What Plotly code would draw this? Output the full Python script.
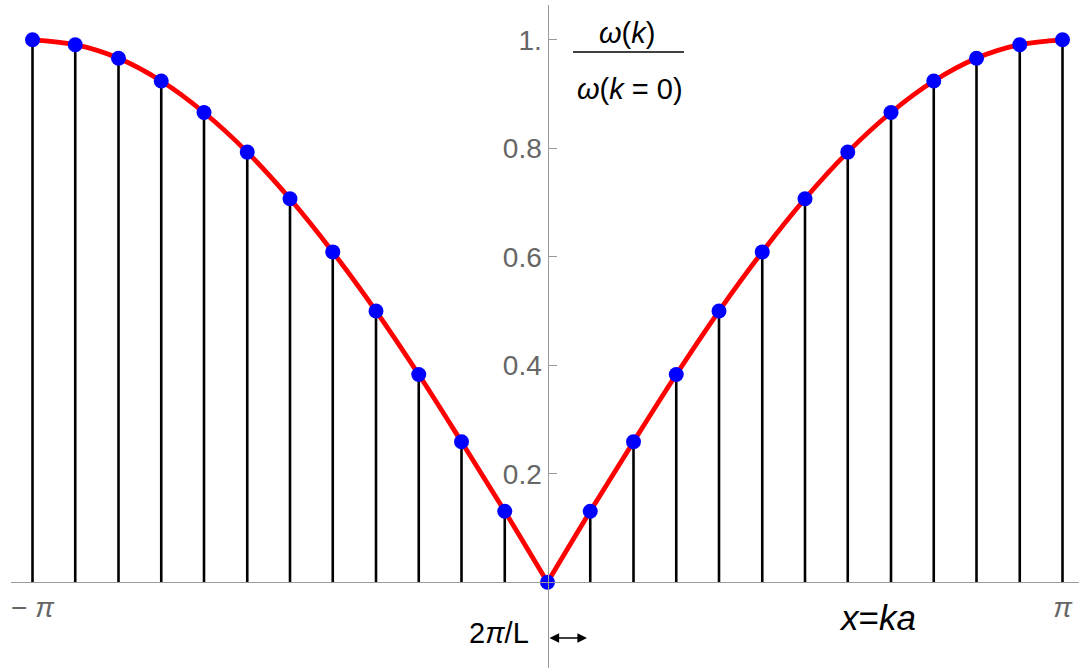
import plotly.graph_objects as go

W, H = 1079, 668

# k*a in units of pi
k_over_pi = [-1.0, -0.917, -0.833, -0.75, -0.667, -0.583, -0.5, -0.417, -0.333, -0.25, -0.167, -0.083,
             0.0,
             0.083, 0.167, 0.25, 0.333, 0.417, 0.5, 0.583, 0.667, 0.75, 0.833, 0.917, 1.0]
# omega(k) / omega(k=0)
omega_ratio = [1.0, 0.991, 0.966, 0.924, 0.866, 0.793, 0.707, 0.609, 0.5, 0.383, 0.259, 0.131,
               0.0,
               0.131, 0.259, 0.383, 0.5, 0.609, 0.707, 0.793, 0.866, 0.924, 0.966, 0.991, 1.0]

x_tickvals = [-1, 1]
x_ticktext = ["\u2212 <i>\u03c0</i>", "<i>\u03c0</i>"]
y_tickvals = [0.2, 0.4, 0.6, 0.8, 1.0]
y_ticktext = ["0.2", "0.4", "0.6", "0.8", "1."]

FONT = "Liberation Sans, Arial, sans-serif"
AXIS_COLOR = "#9a9a9a"
TICK_COLOR = "#666666"

# pixel geometry of the axes
x0_px, y0_px = 547.5, 582.3
px_per_pi, px_per_unit = 515.0, 542.5
x_left_px, y_top_px = 10.8, 5.0
x_range = [(x_left_px - x0_px) / px_per_pi, (W - x0_px) / px_per_pi]
y_range = [-(H - y0_px) / px_per_unit, (y0_px - y_top_px) / px_per_unit]

fig = go.Figure()

# stems
sx, sy = [], []
for xv, yv in zip(k_over_pi, omega_ratio):
    sx += [xv, xv, None]
    sy += [0, yv, None]
fig.add_trace(go.Scatter(x=sx, y=sy, mode="lines", line=dict(color="black", width=2.6),
                         hoverinfo="skip", showlegend=False))

# red dispersion curve (two smooth halves joined at the cusp)
mid = k_over_pi.index(0.0)
fig.add_trace(go.Scatter(x=k_over_pi[:mid + 1], y=omega_ratio[:mid + 1], mode="lines",
                         line=dict(color="#ff0000", width=4.8, shape="spline"), showlegend=False))
fig.add_trace(go.Scatter(x=k_over_pi[mid:], y=omega_ratio[mid:], mode="lines",
                         line=dict(color="#ff0000", width=4.8, shape="spline"), showlegend=False))

# blue points
fig.add_trace(go.Scatter(x=k_over_pi, y=omega_ratio, mode="markers",
                         marker=dict(color="#0000ff", size=15, line=dict(width=0)), showlegend=False))

fig.update_layout(
    width=W, height=H, margin=dict(l=0, r=0, t=0, b=0),
    paper_bgcolor="white", plot_bgcolor="white",
    font=dict(family=FONT),
    xaxis=dict(domain=[x_left_px / W, 1], range=x_range, anchor="free",
               position=(H - y0_px) / H, showline=True, linecolor=AXIS_COLOR, linewidth=1.3,
               tickvals=x_tickvals, ticktext=x_ticktext, ticks="", showgrid=False, zeroline=False,
               tickfont=dict(size=28, color=TICK_COLOR, family=FONT)),
    yaxis=dict(domain=[0, (H - y_top_px) / H], range=y_range, anchor="free",
               position=x0_px / W, showline=True, linecolor=AXIS_COLOR, linewidth=1.3,
               tickvals=y_tickvals, ticktext=y_ticktext, ticks="inside", ticklen=8,
               tickcolor=AXIS_COLOR, tickwidth=1.2, showgrid=False, zeroline=False,
               tickfont=dict(size=28, color=TICK_COLOR, family=FONT)),
)

def px(xp):
    return xp / W

def py(yp):
    return 1 - yp / H

ann_font = dict(family=FONT, size=29, color="black")
fig.add_annotation(x=px(627), y=py(33), xref="paper", yref="paper", showarrow=False,
                   text="<i>\u03c9</i>(<i>k</i>)", font=ann_font, xanchor="center", yanchor="middle")
fig.add_annotation(x=px(630), y=py(89), xref="paper", yref="paper", showarrow=False,
                   text="<i>\u03c9</i>(<i>k</i> = 0)", font=ann_font, xanchor="center", yanchor="middle")
fig.add_shape(type="line", xref="paper", yref="paper", x0=px(573), x1=px(684), y0=py(52), y1=py(52),
              line=dict(color="black", width=1.5))

fig.add_annotation(x=px(498.5), y=py(633), xref="paper", yref="paper", showarrow=False,
                   text="2<i>\u03c0</i>/L", font=dict(family=FONT, size=29, color="black"),
                   xanchor="center", yanchor="middle")
fig.add_annotation(x=px(587), y=py(638), xref="paper", yref="paper", ax=-39, ay=0,
                   axref="pixel", ayref="pixel", text="", showarrow=True, arrowside="end+start",
                   arrowhead=2, arrowsize=1.2, arrowwidth=1.6, arrowcolor="black")

fig.add_annotation(x=px(877), y=py(617), xref="paper", yref="paper", showarrow=False,
                   text="<i>x</i>=<i>ka</i>", font=dict(family=FONT, size=35, color="black"),
                   xanchor="center", yanchor="middle")

fig.write_html("out.html", config={"displayModeBar": False},
               post_script="document.body.style.margin='0';document.body.style.padding='0';")
